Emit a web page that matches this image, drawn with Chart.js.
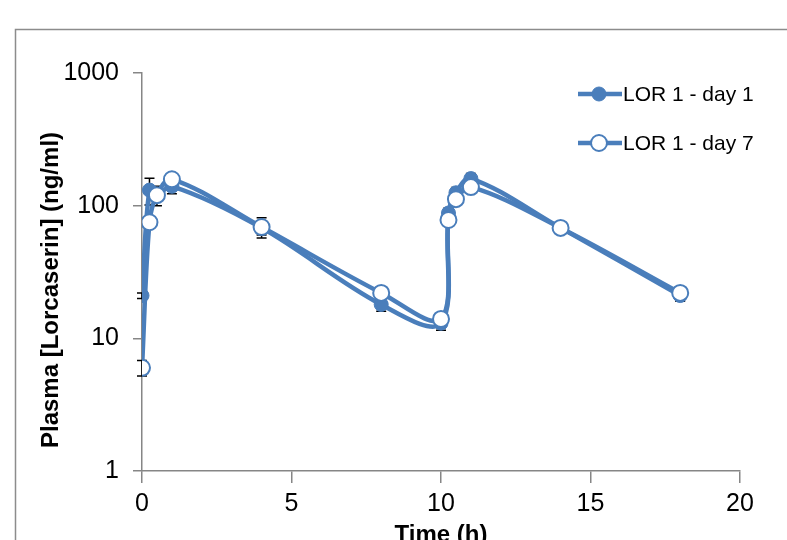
<!DOCTYPE html>
<html>
<head>
  <title>Plasma Lorcaserin</title>
  <script src="https://cdn.jsdelivr.net/npm/chart.js"></script>
  <style>
    body { margin: 0; background: #fff; overflow: hidden; }
    canvas { display: block; }
  </style>
</head>
<body>
  <canvas id="pkChart" width="787" height="540"></canvas>

  <script>
    // values
    const timeH = [0, 0.25, 0.5, 1, 4, 8, 10, 10.25, 10.5, 11, 14, 18];
    const day1 = [21, 131, 120, 140, 68, 18, 13, 88, 125, 160, 68, 21];
    const day7 = [6, 75, 120, 158, 69, 22, 14, 78, 112, 138, 68, 22];
    const day1Sd = [1, 30, 20, 17, 8, 2, 1.5, 8, 12, 15, 6, 2];
    const day7Sd = [0.8, 7, 10, 14, 12, 2, 1.2, 7, 10, 12, 6, 2];
    const yTicks = [1, 10, 100, 1000];
    const xTicks = [0, 5, 10, 15, 20];
    const yTitle = "Plasma [Lorcaserin] (ng/ml)";

    const blue = "#4a7ebb";
    const axisGrey = "#868686";
    const font = "'Liberation Sans', Arial, sans-serif";

    function points(vals) {
      return timeH.map((t, i) => ({ x: t, y: vals[i] }));
    }

    // grey frame like the excel chart border, plus the y title
    const framePlugin = {
      id: "frame",
      beforeDraw(chart) {
        const ctx = chart.ctx;
        ctx.save();
        ctx.strokeStyle = "#8c8c8c";
        ctx.lineWidth = 1.5;
        ctx.strokeRect(15.5, 29.5, 900, 600);
        ctx.translate(51, 290);
        ctx.rotate(-Math.PI / 2);
        ctx.fillStyle = "#000";
        ctx.font = "bold 24px " + font;
        ctx.textAlign = "center";
        ctx.textBaseline = "middle";
        ctx.fillText(yTitle, 0, 0);
        ctx.restore();
      }
    };

    const errorBarPlugin = {
      id: "errorBars",
      beforeDatasetsDraw(chart) {
        const ctx = chart.ctx;
        const xs = chart.scales.x, ys = chart.scales.y;
        ctx.save();
        ctx.strokeStyle = "#000";
        ctx.lineWidth = 1.5;
        chart.data.datasets.forEach(ds => {
          ds.data.forEach((p, i) => {
            const sd = ds.sd[i];
            const px = xs.getPixelForValue(p.x);
            const top = ys.getPixelForValue(p.y + sd);
            const bot = ys.getPixelForValue(Math.max(p.y - sd, 1));
            ctx.beginPath();
            ctx.moveTo(px, top); ctx.lineTo(px, bot);
            ctx.moveTo(px - 5, top); ctx.lineTo(px + 5, top);
            ctx.moveTo(px - 5, bot); ctx.lineTo(px + 5, bot);
            ctx.stroke();
          });
        });
        ctx.restore();
      }
    };

    const legendPlugin = {
      id: "sideLegend",
      afterDraw(chart) {
        const ctx = chart.ctx;
        ctx.save();
        chart.data.datasets.forEach((ds, i) => {
          const y = 94 + i * 49;
          ctx.strokeStyle = blue;
          ctx.lineWidth = 4.5;
          ctx.beginPath();
          ctx.moveTo(578, y); ctx.lineTo(622, y);
          ctx.stroke();
          ctx.beginPath();
          ctx.arc(599, y, ds.pointRadius, 0, Math.PI * 2);
          ctx.fillStyle = ds.pointBackgroundColor;
          ctx.fill();
          ctx.lineWidth = ds.pointBorderWidth;
          ctx.stroke();
          ctx.fillStyle = "#000";
          ctx.font = "21px " + font;
          ctx.textBaseline = "middle";
          ctx.fillText(ds.label, 623, y + 1);
        });
        ctx.restore();
      }
    };

    new Chart(document.getElementById("pkChart"), {
      type: "line",
      data: {
        datasets: [
          {
            label: "LOR 1 - day 1",
            data: points(day1),
            sd: day1Sd,
            order: 1,
            borderColor: blue,
            borderWidth: 4.5,
            tension: 0.35,
            pointRadius: 7,
            pointBackgroundColor: blue,
            pointBorderColor: blue,
            pointBorderWidth: 1
          },
          {
            label: "LOR 1 - day 7",
            data: points(day7),
            sd: day7Sd,
            order: 0,
            borderColor: blue,
            borderWidth: 4.5,
            tension: 0.35,
            pointRadius: 8,
            pointBackgroundColor: "#fff",
            pointBorderColor: blue,
            pointBorderWidth: 2
          }
        ]
      },
      options: {
        responsive: false,
        animation: false,
        layout: { padding: { top: 73, right: 47, left: 0, bottom: 0 } },
        plugins: {
          legend: { display: false },
          tooltip: { enabled: false }
        },
        scales: {
          x: {
            type: "linear",
            min: 0,
            max: 20,
            afterBuildTicks: s => { s.ticks = xTicks.map(v => ({ value: v })); },
            afterFit: s => { s.height = 69; },
            border: { color: axisGrey, width: 1.5 },
            grid: { drawOnChartArea: false, color: axisGrey, tickLength: 12, lineWidth: 1.5 },
            ticks: { color: "#000", padding: 6, font: { family: font, size: 25 } },
            title: {
              display: true,
              text: "Time (h)",
              color: "#000",
              padding: { top: 0, bottom: -10 },
              font: { family: font, size: 24, weight: "bold" }
            }
          },
          y: {
            type: "logarithmic",
            min: 1,
            max: 1000,
            afterBuildTicks: s => { s.ticks = yTicks.map(v => ({ value: v })); },
            afterFit: s => { s.width = 142; },
            border: { color: axisGrey, width: 1.5 },
            grid: { drawOnChartArea: false, color: axisGrey, tickLength: 9, lineWidth: 1.5 },
            ticks: {
              color: "#000",
              padding: 14,
              font: { family: font, size: 25 },
              callback: v => String(v)
            }
          }
        }
      },
      plugins: [framePlugin, errorBarPlugin, legendPlugin]
    });
  </script>
</body>
</html>
